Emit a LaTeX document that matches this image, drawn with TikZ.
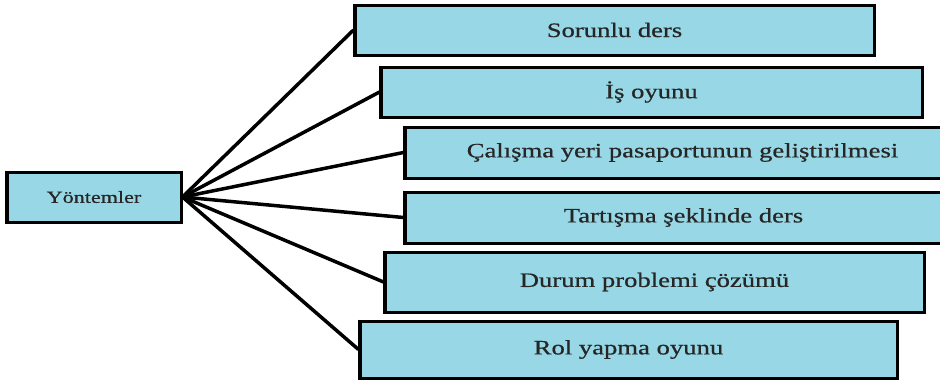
\documentclass[tikz,border=0pt]{standalone}
\usepackage{fontspec}
\setmainfont{Liberation Serif}[FakeStretch=1.3, FakeBold=0.6]
\usetikzlibrary{positioning}

\definecolor{boxblue}{RGB}{152,216,230}

\tikzset{
    method/.style={draw=black, fill=boxblue, line width=3pt, inner sep=0pt,
        font=\fontsize{20.5}{22}\selectfont, text=black!85,
        append after command={[line width=6pt]
            (\tikzlastnode.north west) edge (\tikzlastnode.south west)
            (\tikzlastnode.north east) edge (\tikzlastnode.south east)}},
    link/.style={draw=black, line width=3.5pt}
}

\begin{document}
\begin{tikzpicture}[x=1pt, y=-1pt]
        \clip (0,0) rectangle (940,381);
        \fill[white] (0,0) rectangle (940,381);

        % Root
        \node[method, minimum width=174pt, minimum height=50pt, font=\fontsize{17}{19}\selectfont] (root) at (94,197) {Yöntemler};

        % Methods
        \node[method, minimum width=519pt, minimum height=50pt] (m1) at (614.5,30) {Sorunlu ders};
        \node[method, minimum width=541pt, minimum height=50pt] (m2) at (651.5,92) {İş oyunu};
        \node[method, minimum width=555pt, minimum height=51pt] (m3) at (682.5,152.5) {Çalışma yeri pasaportunun geliştirilmesi};
        \node[method, minimum width=557pt, minimum height=51pt] (m4) at (683.5,217.5) {Tartışma şeklinde ders};
        \node[method, minimum width=539pt, minimum height=60pt] (m5) at (654.5,282) {Durum problemi çözümü};
        \node[method, minimum width=537pt, minimum height=57pt] (m6) at (628.5,349.5) {Rol yapma oyunu};

        % Links
        \foreach \m in {m1, m2, m3, m4, m5, m6}
            \draw[link] (root.east) -- (\m.west);
    \end{tikzpicture}
\end{document}
